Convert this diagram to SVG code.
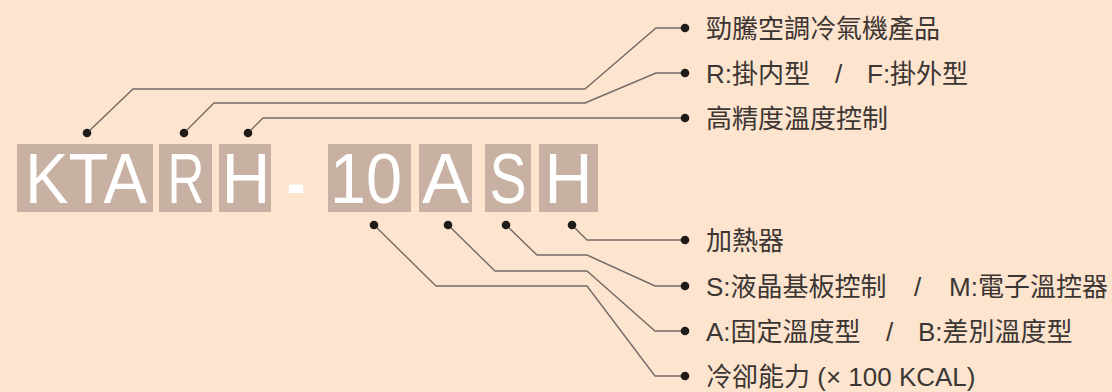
<svg xmlns="http://www.w3.org/2000/svg" width="1112" height="392" viewBox="0 0 1112 392">
<style>
.bg{fill:#FDE4CF}
.box{fill:#C8B1A2}
.code{font-family:"Liberation Sans",Arial,sans-serif;font-size:70px;fill:#FFFFFF;text-anchor:middle}
.lbl{font-family:"Liberation Sans","Noto Sans CJK TC",sans-serif;font-size:26px;fill:#3B3633}
.wire{fill:none;stroke:#736B66;stroke-width:1.4}
.dot{fill:#1F1B19}
</style>
<rect class="bg" x="0" y="0" width="1112" height="392"/>
<g id="code">
  <g id="seg-kta"><rect class="box" x="17" y="144" width="136" height="68"/><text class="code" x="86" y="203" textLength="122" lengthAdjust="spacingAndGlyphs">KTA</text></g>
  <g id="seg-r"><rect class="box" x="159" y="144" width="53" height="68"/><text class="code" x="186" y="203" textLength="37" lengthAdjust="spacingAndGlyphs">R</text></g>
  <g id="seg-h1"><rect class="box" x="219" y="144" width="52" height="68"/><text class="code" x="246" y="203" textLength="49" lengthAdjust="spacingAndGlyphs">H</text></g>
  <g id="seg-dash"><text class="code" x="296" y="207" textLength="19" lengthAdjust="spacingAndGlyphs" font-weight="bold">-</text></g>
  <g id="seg-10"><rect class="box" x="328" y="144" width="83" height="68"/><text class="code" x="366" y="203" textLength="72" lengthAdjust="spacingAndGlyphs">10</text></g>
  <g id="seg-a"><rect class="box" x="419" y="144" width="53" height="68"/><text class="code" x="445.5" y="203" textLength="47" lengthAdjust="spacingAndGlyphs">A</text></g>
  <g id="seg-s"><rect class="box" x="485" y="144" width="46" height="68"/><text class="code" x="508" y="203" textLength="37" lengthAdjust="spacingAndGlyphs">S</text></g>
  <g id="seg-h2"><rect class="box" x="539" y="144" width="59" height="68"/><text class="code" x="568.5" y="203" textLength="48" lengthAdjust="spacingAndGlyphs">H</text></g>
</g>
<g id="connectors">
  <polyline class="wire" points="87,133 133,89 585,89 656,28 685,28"/>
  <polyline class="wire" points="184,133 214,103 585,103 656,73 685,73"/>
  <polyline class="wire" points="248,133 263,118 685,118"/>
  <polyline class="wire" points="572,225 587,240 685,240"/>
  <polyline class="wire" points="506,225 537,255 587,255 655,286 685,286"/>
  <polyline class="wire" points="448,225 495,271 587,271 655,331 685,331"/>
  <polyline class="wire" points="374,225 436,286 587,286 655,376 685,376"/>
  <g class="dot">
    <circle cx="87" cy="133" r="4.3"/><circle cx="184" cy="133" r="4.3"/><circle cx="248" cy="133" r="4.3"/>
    <circle cx="374" cy="225" r="4.3"/><circle cx="448" cy="225" r="4.3"/><circle cx="506" cy="225" r="4.3"/><circle cx="572" cy="225" r="4.3"/>
    <circle cx="685" cy="28" r="4.3"/><circle cx="685" cy="73" r="4.3"/><circle cx="685" cy="118" r="4.3"/>
    <circle cx="685" cy="240" r="4.3"/><circle cx="685" cy="286" r="4.3"/><circle cx="685" cy="331" r="4.3"/><circle cx="685" cy="376" r="4.3"/>
  </g>
</g>
<g id="label-brand"><text class="lbl" x="706" y="38">勁騰空調冷氣機產品</text></g>
<g id="label-type"><text class="lbl" y="83"><tspan x="706">R:掛内型</tspan><tspan x="835">/</tspan><tspan x="867">F:掛外型</tspan></text></g>
<g id="label-precision"><text class="lbl" x="706" y="128">高精度溫度控制</text></g>
<g id="label-heater"><text class="lbl" x="706" y="250">加熱器</text></g>
<g id="label-control"><text class="lbl" y="296"><tspan x="706">S:液晶基板控制</tspan><tspan x="914">/</tspan><tspan x="949">M:電子溫控器</tspan></text></g>
<g id="label-temp"><text class="lbl" y="341"><tspan x="706">A:固定溫度型</tspan><tspan x="886">/</tspan><tspan x="918">B:差別溫度型</tspan></text></g>
<g id="label-capacity"><text class="lbl" x="706" y="386">冷卻能力 (× 100 KCAL)</text></g>
</svg>
